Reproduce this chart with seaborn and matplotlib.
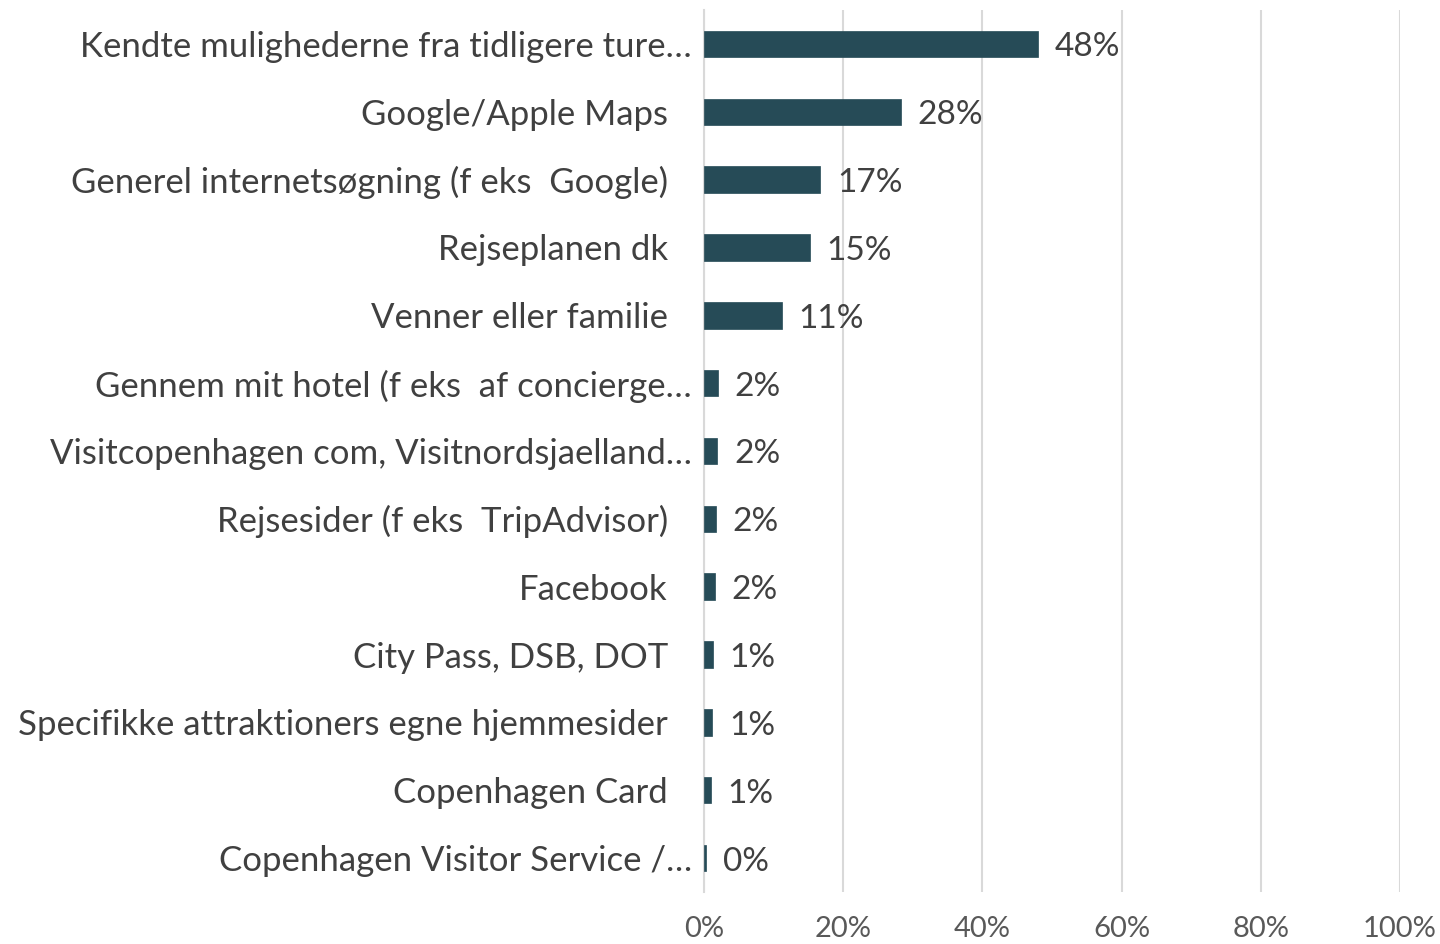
import matplotlib
matplotlib.use("Agg")
import matplotlib.pyplot as plt
import matplotlib.transforms as mtransforms
import seaborn as sns
import pandas as pd
import numpy as np

categories = [
    "Kendte mulighederne fra tidligere ture…",
    "Google/Apple Maps",
    "Generel internetsøgning (f eks  Google)",
    "Rejseplanen dk",
    "Venner eller familie",
    "Gennem mit hotel (f eks  af concierge…",
    "Visitcopenhagen com, Visitnordsjaelland…",
    "Rejsesider (f eks  TripAdvisor)",
    "Facebook",
    "City Pass, DSB, DOT",
    "Specifikke attraktioners egne hjemmesider",
    "Copenhagen Card",
    "Copenhagen Visitor Service /…",
]
values = [0.48, 0.283, 0.167, 0.152, 0.112, 0.020, 0.019, 0.017, 0.016, 0.013, 0.012, 0.010, 0.003]
value_labels = ["48%", "28%", "17%", "15%", "11%", "2%", "2%", "2%", "2%", "1%", "1%", "1%", "0%"]
x_ticks = [0, 0.2, 0.4, 0.6, 0.8, 1.0]
x_tick_labels = ["0%", "20%", "40%", "60%", "80%", "100%"]

sns.set_theme(style="white")
plt.rcParams["font.family"] = ["Lato", "DejaVu Sans"]

df = pd.DataFrame({"cat": categories, "val": values})

fig = plt.figure(figsize=(14.4, 9.44), dpi=100)
ax = fig.add_axes([704/1440, 1-892/944, 696/1440, 882/944])

bar_color = "#264B57"
sns.barplot(data=df, x="val", y="cat", orient="h", color=bar_color,
            width=0.39, ax=ax, saturation=1, edgecolor=bar_color, linewidth=0.5)

ax.set_xlim(0, 1.0)
ax.set_ylim(len(categories) - 0.5, -0.5)
ax.set_xticks(x_ticks)
ax.set_xticklabels(x_tick_labels, fontsize=21, color="#595959")
ax.tick_params(axis="x", length=0, pad=17)
ax.set_xlabel("")
ax.set_ylabel("")

ax.grid(axis="x", color="#D9D9D9", linewidth=1.5)
ax.set_axisbelow(True)
for s in ["top", "right", "bottom"]:
    ax.spines[s].set_visible(False)
ax.spines["left"].set_color("#D9D9D9")
ax.spines["left"].set_linewidth(1.5)
ax.spines["left"].set_zorder(0.5)

ax.set_yticks(range(len(categories)))
ax.set_yticklabels(categories, fontsize=25, color="#404040")
ax.tick_params(axis="y", which="major", length=0, pad=26)
ax.set_yticks(np.arange(-0.5, len(categories), 1.0), minor=True)
ax.tick_params(axis="y", which="minor", length=7.5, width=1.2, color="#D9D9D9", direction="out")

for lbl in ax.get_yticklabels():
    if lbl.get_text().endswith("…"):
        lbl.set_transform(lbl.get_transform() + mtransforms.ScaledTranslation(24/100, 0, fig.dpi_scale_trans))

for i, (v, t) in enumerate(zip(values, value_labels)):
    ax.annotate(t, xy=(v, i), xytext=(12, -2.5), textcoords="offset points",
                va="center", ha="left", fontsize=24, color="#404040")

fig.savefig("out.png", dpi=100, facecolor="white")
